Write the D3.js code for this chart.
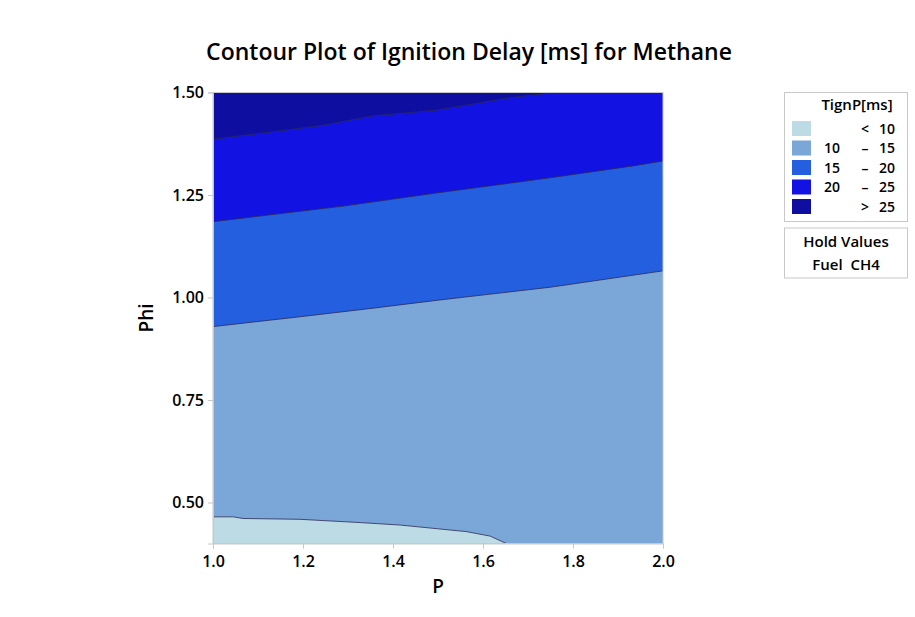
<!DOCTYPE html>
<html><head><meta charset="utf-8">
<script src="https://cdn.jsdelivr.net/npm/d3@7"></script>
<style>body{margin:0;background:#fff}svg{display:block}text{font-family:"Open Sans","Noto Sans",sans-serif}</style>
</head><body>
<svg id="chart" width="915" height="617"></svg>
<script>
// Contour boundary lines (P, Phi)
const line10P   = [1.0, 1.045, 1.067, 1.193, 1.327, 1.416, 1.563, 1.616, 1.652];
const line10Phi = [0.465, 0.465, 0.461, 0.459, 0.451, 0.445, 0.429, 0.418, 0.400];
const line15P   = [1.0, 1.193, 1.356, 1.504, 1.749, 2.0];
const line15Phi = [0.929, 0.953, 0.974, 0.994, 1.025, 1.065];
const line20P   = [1.0, 1.29, 1.504, 1.749, 1.934, 2.0];
const line20Phi = [1.185, 1.223, 1.256, 1.292, 1.321, 1.333];
const line25P   = [1.0, 1.116, 1.238, 1.356, 1.497, 1.652, 1.756];
const line25Phi = [1.386, 1.402, 1.419, 1.443, 1.457, 1.486, 1.500];

const bandLabels = [["", "<", "10"], ["10", "–", "15"], ["15", "–", "20"], ["20", "–", "25"], ["", ">", "25"]];
const bandColors = ["#bddbe4", "#7ba6d8", "#245fe0", "#1212e2", "#0e0ea0"];
const xTicks = [1.0, 1.2, 1.4, 1.6, 1.8, 2.0];
const yTicks = [0.50, 0.75, 1.00, 1.25, 1.50];

const svg = d3.select("#chart");
const x = d3.scaleLinear().domain([1.0, 2.0]).range([213, 663]);
const y = d3.scaleLinear().domain([0.4, 1.5]).range([543.5, 92.5]);
const pts = (P, F) => P.map((p, i) => [p, F[i]]);
const toPath = arr => d3.line().x(d => x(d[0])).y(d => y(d[1]))(arr);

const L10 = pts(line10P, line10Phi), L15 = pts(line15P, line15Phi),
      L20 = pts(line20P, line20Phi), L25 = pts(line25P, line25Phi);

const g = svg.append("g");
g.append("path").attr("d", toPath([[1.0,0.4],[2.0,0.4],[2.0,1.5],[1.0,1.5]]) + "Z").attr("fill", bandColors[1]);
g.append("path").attr("d", toPath([...L10, [1.0,0.4]]) + "Z").attr("fill", bandColors[0]);
g.append("path").attr("d", toPath([...L15, [2.0,1.5],[1.0,1.5]]) + "Z").attr("fill", bandColors[2]);
g.append("path").attr("d", toPath([...L20, [2.0,1.5],[1.0,1.5]]) + "Z").attr("fill", bandColors[3]);
g.append("path").attr("d", toPath([...L25, [1.0,1.5]]) + "Z").attr("fill", bandColors[4]);

[L10, L15, L20, L25].forEach(L => {
  g.append("path").attr("d", toPath(L)).attr("fill", "none").attr("stroke", "#2a2a55").attr("stroke-width", 0.8);
});

svg.append("rect").attr("x", 213).attr("y", 92.5).attr("width", 450).attr("height", 451)
  .attr("fill", "none").attr("stroke", "#c8c8c8").attr("stroke-width", 1);

const xAxis = svg.append("g").attr("transform", "translate(0,543.5)")
  .call(d3.axisBottom(x).tickValues(xTicks).tickFormat(d3.format(".1f")).tickSize(5).tickPadding(4));
const yAxis = svg.append("g").attr("transform", "translate(213,0)")
  .call(d3.axisLeft(y).tickValues(yTicks).tickFormat(d3.format(".2f")).tickSize(5).tickPadding(4));
[xAxis, yAxis].forEach(a => {
  a.select(".domain").attr("stroke", "#c8c8c8");
  a.selectAll(".tick line").attr("stroke", "#c8c8c8");
  a.selectAll(".tick text").attr("fill", "#000").style("font-size", "16px").style("font-weight", 600)
    .style("font-family", '"Open Sans",sans-serif');
});
xAxis.selectAll(".tick text").attr("dy", "0.9em");

svg.append("text").attr("x", 469).attr("y", 60).attr("text-anchor", "middle")
  .style("font-size", "23px").style("font-weight", 600).text("Contour Plot of Ignition Delay [ms] for Methane");
svg.append("text").attr("x", 438).attr("y", 593).attr("text-anchor", "middle")
  .style("font-size", "19px").style("font-weight", 600).text("P");
svg.append("text").attr("transform", "translate(153,318) rotate(-90)").attr("text-anchor", "middle")
  .style("font-size", "19px").style("font-weight", 600).text("Phi");

const lg = svg.append("g");
lg.append("rect").attr("x", 784.5).attr("y", 92.5).attr("width", 123).attr("height", 129)
  .attr("fill", "#fff").attr("stroke", "#c8c8c8");
lg.append("text").attr("x", 857).attr("y", 110).attr("text-anchor", "middle")
  .style("font-size", "15px").style("font-weight", 600).text("TignP[ms]");
bandLabels.forEach((lab, i) => {
  const yy = 121 + i * 19.5;
  lg.append("rect").attr("x", 792).attr("y", yy).attr("width", 19).attr("height", 15).attr("fill", bandColors[i]);
  lg.append("text").attr("x", 840).attr("y", yy + 12.5).attr("text-anchor", "end").style("font-size", "14px").style("font-weight", 600).text(lab[0]);
  lg.append("text").attr("x", 865).attr("y", yy + 12.5).attr("text-anchor", "middle").style("font-size", "14px").style("font-weight", 600).text(lab[1]);
  lg.append("text").attr("x", 895).attr("y", yy + 12.5).attr("text-anchor", "end").style("font-size", "14px").style("font-weight", 600).text(lab[2]);
});
lg.append("rect").attr("x", 784.5).attr("y", 228).attr("width", 123).attr("height", 50)
  .attr("fill", "#fff").attr("stroke", "#c8c8c8");
lg.append("text").attr("x", 846).attr("y", 247).attr("text-anchor", "middle").style("font-size", "15px").style("font-weight", 600).text("Hold Values");
lg.append("text").attr("x", 846).attr("y", 270).attr("text-anchor", "middle").style("font-size", "15px").style("font-weight", 600).attr("xml:space", "preserve").text("Fuel  CH4");
</script>
</body></html>
